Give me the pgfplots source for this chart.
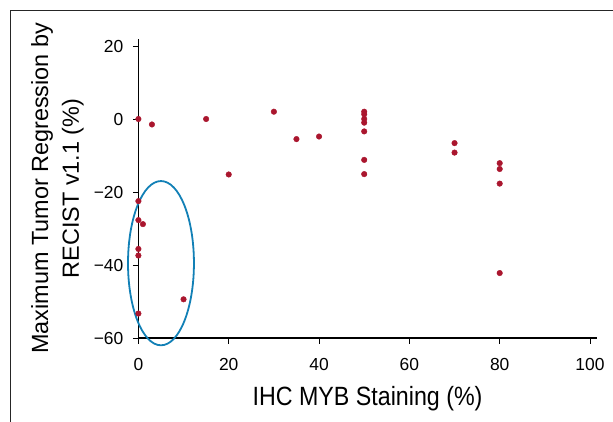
\documentclass[border=0pt]{standalone}
\usepackage{fontspec}
\setmainfont{Liberation Sans}
\newfontfamily\condfont[FakeStretch=0.88]{Liberation Sans}
\usepackage{pgfplots}
\pgfplotsset{compat=1.18}
\definecolor{dotred}{RGB}{170,22,46}
\definecolor{ringblue}{RGB}{18,128,182}

\begin{document}
\begin{tikzpicture}
\useasboundingbox (-138.4bp,-84bp) rectangle (474.6bp,338bp);
% outer frame, cut off at right and bottom
\draw[line width=1bp, black!85] (-127.4bp,-90bp) -- (-127.4bp,327.3bp) -- (480bp,327.3bp);
\begin{axis}[
    scale only axis,
    width=458.4bp,
    height=299.3bp,
    xmin=0, xmax=101.5,
    ymin=-60, ymax=22,
    axis lines=left,
    axis line style={line width=1.6bp, -},
    xtick={0,20,40,60,80,100},
    ytick={-60,-40,-20,0,20},
    yticklabels={−60,−40,−20,0,20},
    tick align=outside,
    major tick length=5.5bp,
    tick style={line width=1bp, black},
    tick label style={font=\fontsize{17.5}{20}\selectfont},
    /pgf/number format/assume math mode=true,
    xticklabel style={yshift=-11bp},
    yticklabel style={xshift=-6bp},
    xlabel={IHC MYB Staining (\%)},
    xlabel style={at={(axis description cs:0.5,0)}, anchor=base, yshift=-67bp,
        font=\condfont\fontsize{26.5}{30}\selectfont},
    ylabel={Maximum Tumor Regression by\\RECIST v1.1 (\%)},
    ylabel style={at={(axis description cs:0,0.5)}, anchor=center, yshift=80.9bp,
        align=center, font=\fontsize{23.5}{31}\selectfont},
    clip=false,
]
\addplot[only marks, mark=*, mark size=2.8bp, color=dotred] coordinates {
    (0,0) (3,-1.5) (15,0) (20,-15.2) (30,2) (35,-5.5) (40,-4.8)
    (50,2.0) (50,1.3) (50,0) (50,-1.0) (50,-3.4) (50,-11.2) (50,-15.1)
    (70,-6.6) (70,-9.2)
    (80,-12.1) (80,-13.7) (80,-17.7) (80,-42.2)
    (0,-22.5) (0,-27.7) (1,-28.8) (0,-35.6) (0,-37.4) (10,-49.4) (0,-53.3)
};
% highlighted group
\draw[ringblue, line width=1.8bp] (axis cs:5,-39.5) ellipse [x radius=7.3, y radius=22.5];
\end{axis}
\end{tikzpicture}
\end{document}
